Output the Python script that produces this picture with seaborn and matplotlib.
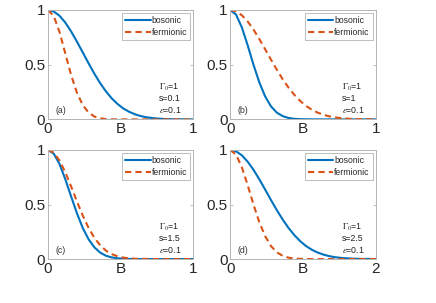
import pandas as pd
import numpy as np
import matplotlib
matplotlib.use('Agg')
import matplotlib.pyplot as plt
import seaborn as sns

# B grid (panels a-c: 0..1, panel d: 0..2)
B_1 = [0.00, 0.04, 0.08, 0.12, 0.16, 0.20, 0.24, 0.28, 0.32, 0.36, 0.40, 0.44, 0.48,
       0.52, 0.56, 0.60, 0.64, 0.68, 0.72, 0.76, 0.80, 0.84, 0.88, 0.92, 0.96, 1.00]
B_2 = [0.00, 0.08, 0.16, 0.24, 0.32, 0.40, 0.48, 0.56, 0.64, 0.72, 0.80, 0.88, 0.96,
       1.04, 1.12, 1.20, 1.28, 1.36, 1.44, 1.52, 1.60, 1.68, 1.76, 1.84, 1.92, 2.00]

# (a) s=0.1
bos_a = [1.000, 0.986, 0.947, 0.884, 0.803, 0.710, 0.611, 0.512, 0.417, 0.330, 0.255, 0.191, 0.140,
         0.099, 0.069, 0.046, 0.030, 0.019, 0.012, 0.007, 0.004, 0.002, 0.001, 0.001, 0.000, 0.000]
fer_a = [1.000, 0.945, 0.797, 0.600, 0.403, 0.242, 0.130, 0.062, 0.026, 0.010, 0.003, 0.001, 0.000,
         0.000, 0.000, 0.000, 0.000, 0.000, 0.000, 0.000, 0.000, 0.000, 0.000, 0.000, 0.000, 0.000]
# (b) s=1
bos_b = [1.000, 0.958, 0.841, 0.677, 0.499, 0.338, 0.210, 0.119, 0.062, 0.030, 0.013, 0.005, 0.002,
         0.001, 0.000, 0.000, 0.000, 0.000, 0.000, 0.000, 0.000, 0.000, 0.000, 0.000, 0.000, 0.000]
fer_b = [1.000, 0.988, 0.952, 0.895, 0.821, 0.734, 0.641, 0.546, 0.454, 0.368, 0.291, 0.225, 0.169,
         0.124, 0.089, 0.062, 0.042, 0.028, 0.018, 0.012, 0.007, 0.004, 0.003, 0.001, 0.001, 0.000]
# (c) s=1.5
bos_c = [1.000, 0.966, 0.870, 0.730, 0.572, 0.418, 0.284, 0.181, 0.107, 0.059, 0.030, 0.015, 0.007,
         0.003, 0.001, 0.000, 0.000, 0.000, 0.000, 0.000, 0.000, 0.000, 0.000, 0.000, 0.000, 0.000]
fer_c = [1.000, 0.975, 0.903, 0.794, 0.664, 0.527, 0.398, 0.285, 0.194, 0.126, 0.077, 0.045, 0.025,
         0.013, 0.007, 0.003, 0.002, 0.001, 0.000, 0.000, 0.000, 0.000, 0.000, 0.000, 0.000, 0.000]
# (d) s=2.5
bos_d = [1.000, 0.988, 0.951, 0.893, 0.818, 0.731, 0.637, 0.541, 0.449, 0.363, 0.286, 0.220, 0.165,
         0.120, 0.086, 0.060, 0.041, 0.027, 0.017, 0.011, 0.007, 0.004, 0.002, 0.001, 0.001, 0.000]
fer_d = [1.000, 0.958, 0.841, 0.677, 0.499, 0.338, 0.210, 0.119, 0.062, 0.030, 0.013, 0.005, 0.002,
         0.001, 0.000, 0.000, 0.000, 0.000, 0.000, 0.000, 0.000, 0.000, 0.000, 0.000, 0.000, 0.000]

panels = [
    ('(a)', B_1, bos_a, fer_a, '0.1', 1),
    ('(b)', B_1, bos_b, fer_b, '1', 1),
    ('(c)', B_1, bos_c, fer_c, '1.5', 1),
    ('(d)', B_2, bos_d, fer_d, '2.5', 2),
]
positions = [
    [0.110, 0.606, 0.333, 0.361],
    [0.528, 0.606, 0.334, 0.361],
    [0.110, 0.145, 0.333, 0.360],
    [0.528, 0.145, 0.334, 0.360],
]

sns.set_style('ticks')
plt.rcParams['font.family'] = ['Liberation Sans', 'DejaVu Sans']
plt.rcParams['mathtext.fontset'] = 'stix'

blue = '#0072BD'
red = '#D95319'
axcol = '#b4b4b4'

fig = plt.figure(figsize=(4.36, 3.03), dpi=100)

for (lab, B, bos, fer, s, xmax), pos in zip(panels, positions):
    ax = fig.add_axes(pos)
    df = pd.DataFrame({'B': B + B,
                       'val': bos + fer,
                       'kind': ['bosonic'] * len(B) + ['fermionic'] * len(B)})
    sns.lineplot(data=df, x='B', y='val', hue='kind', style='kind',
                 palette=[blue, red], dashes=[(None, None), (3, 2)],
                 linewidth=1.5, ax=ax, legend=True)
    ax.set_xlim(0, xmax)
    ax.set_ylim(0, 1)
    ax.set_xticks([0, xmax])
    ax.set_xticklabels(['0', str(xmax)])
    ax.set_yticks([0, 0.5, 1])
    ax.set_yticklabels(['0', '0.5', '1'])
    ax.tick_params(direction='in', length=2.5, width=0.6, color=axcol,
                   labelsize=11, pad=2, top=True, right=True, labelcolor='#262626')
    for sp in ax.spines.values():
        sp.set_visible(True)
        sp.set_color(axcol)
        sp.set_linewidth(0.7)
    ax.set_xlabel('B', fontsize=11, labelpad=-10, color='#262626')
    ax.set_ylabel('')
    leg = ax.legend(loc='upper right', fontsize=6.2, frameon=True, fancybox=False,
                    edgecolor='#a0a0a0', handlelength=3.0, handletextpad=0.1,
                    borderpad=0.35, labelspacing=0.3, borderaxespad=0.35)
    leg.get_frame().set_linewidth(0.6)
    ax.text(0.05, 0.06, lab, transform=ax.transAxes, fontsize=6.3, color='#333333')
    ax.text(0.765, 0.27, r'$\Gamma_0$=1', transform=ax.transAxes, fontsize=6.3, color='#222222')
    ax.text(0.765, 0.165, 's=' + s, transform=ax.transAxes, fontsize=6.3, color='#222222')
    ax.text(0.765, 0.06, r'$\epsilon$=0.1', transform=ax.transAxes, fontsize=6.3, color='#222222')

fig.savefig('out.png', dpi=100)
